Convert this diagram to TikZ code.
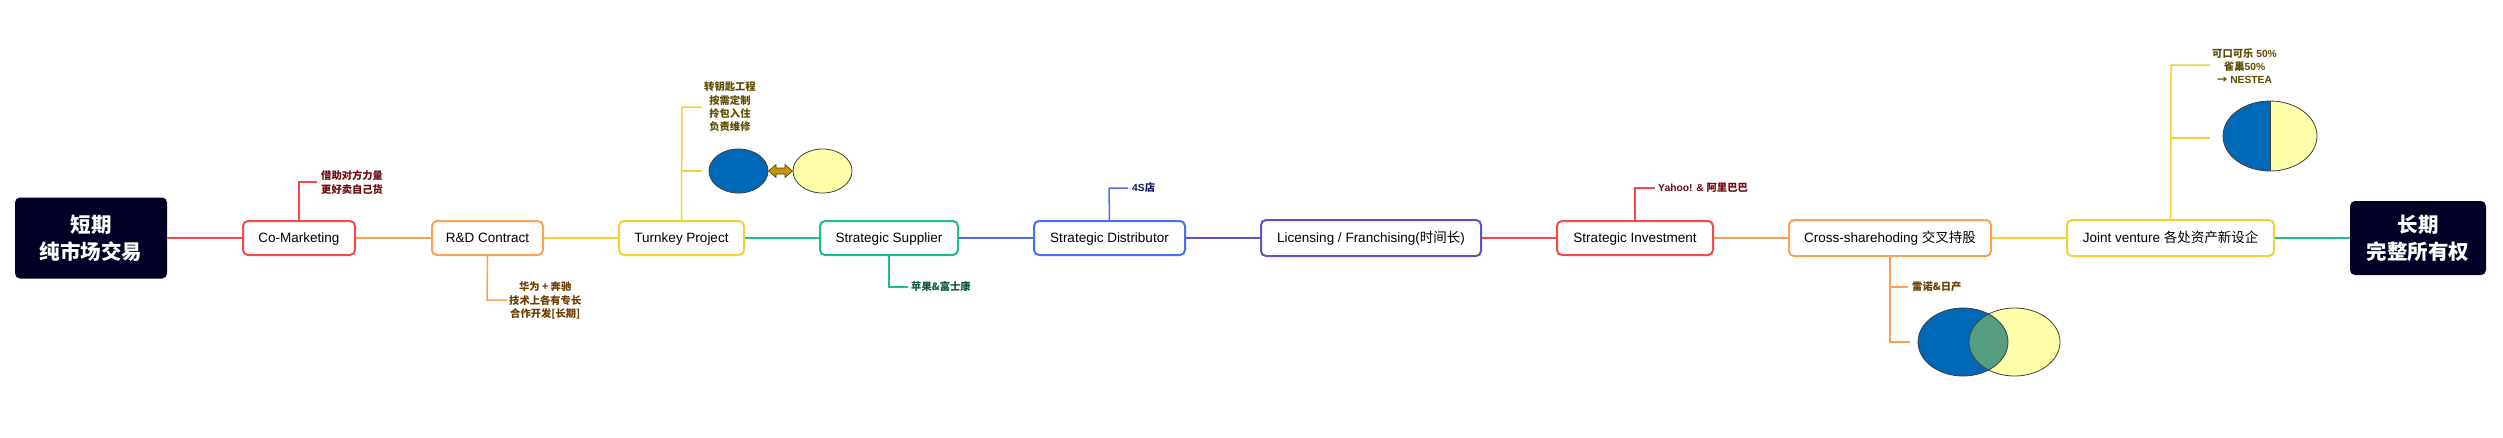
\documentclass[tikz,border=0pt]{standalone}
\usepackage{fontspec}
\setmainfont{Liberation Sans}
\newfontfamily\cjkfont{Noto Sans CJK SC}
\newcommand\zh[1]{{\cjkfont #1}}
\definecolor{cred}{HTML}{F5484A}
\definecolor{corange}{HTML}{F9A254}
\definecolor{cyellow}{HTML}{F4D035}
\definecolor{cgreen}{HTML}{1DBF85}
\definecolor{cblue}{HTML}{4B6EF5}
\definecolor{cindigo}{HTML}{5A54C4}
\definecolor{cnavy}{HTML}{000026}
\definecolor{cblueF}{HTML}{0069B7}
\definecolor{cyelF}{HTML}{FFFFAA}
\definecolor{coverlap}{HTML}{559E80}
\definecolor{carrow}{HTML}{C8960A}
\definecolor{tred}{HTML}{6E0B0B}
\definecolor{tbrown}{HTML}{6B3D00}
\definecolor{tolive}{HTML}{5E4B00}
\definecolor{tgreen}{HTML}{0B5C3C}
\definecolor{tblue}{HTML}{0D1A6E}
\tikzset{
  topic/.style={draw=#1, line width=2pt, rounded corners=5pt, fill=white,
    minimum height=34pt, inner sep=0pt, text=black,
    text height=9.6pt, text depth=0pt,
    font=\fontsize{13.5}{15}\selectfont},
  root/.style={fill=cnavy, rounded corners=5pt, text=white, align=center,
    inner sep=0pt, font=\cjkfont\bfseries\fontsize{20.5}{27}\selectfont},
  link/.style={draw=#1, line width=2pt},
  leg/.style={draw=#1, line width=1.5pt},
  note/.style={text=#1, font=\fontsize{10.3}{13.3}\selectfont\bfseries,
    align=center, anchor=west, inner sep=1pt},
  shapeline/.style={draw=black!75, line width=0.8pt}
}
\begin{document}
\begin{tikzpicture}[x=1pt,y=-1pt]
\useasboundingbox (0,0) rectangle (2503,437);
% main nodes
\node[root, minimum width=152pt, minimum height=81pt] (L) at (91,238) {短期\\纯市场交易};
\node[topic=cred, minimum width=112pt] (cm) at (299,238) {Co-Marketing};
\node[topic=corange, minimum width=111pt] (rd) at (487.5,238) {R\&D Contract};
\node[topic=cyellow, minimum width=125pt] (tk) at (681.5,238) {Turnkey Project};
\node[topic=cgreen, minimum width=138pt] (ss) at (889,238) {Strategic Supplier};
\node[topic=cblue, minimum width=151pt] (sd) at (1109.5,238) {Strategic Distributor};
\node[topic=cindigo, minimum width=220pt, minimum height=36pt] (lf) at (1371,238) {Licensing / Franchising(\zh{时间长})};
\node[topic=cred, minimum width=156pt] (si) at (1635,238) {Strategic Investment};
\node[topic=corange, minimum width=202pt, minimum height=36pt] (cs) at (1890,238) {Cross-sharehoding \zh{交叉持股}};
\node[topic=cyellow, minimum width=207pt, minimum height=36pt] (jv) at (2170.5,238) {Joint venture \zh{各处资产新设企}};
\node[root, minimum width=136pt, minimum height=74pt] (R) at (2418,238) {长期\\完整所有权};
% main connectors
\draw[link=cred] (L.east) -- (cm.west);
\draw[link=corange] (cm.east) -- (rd.west);
\draw[link=cyellow] (rd.east) -- (tk.west);
\draw[link=cgreen] (tk.east) -- (ss.west);
\draw[link=cblue] (ss.east) -- (sd.west);
\draw[link=cindigo] (sd.east) -- (lf.west);
\draw[link=cred] (lf.east) -- (si.west);
\draw[link=corange] (si.east) -- (cs.west);
\draw[link=cyellow] (cs.east) -- (jv.west);
\draw[link=cgreen] (jv.east) -- (R.west);
% Co-Marketing note
\coordinate (cmA) at (299,182);
\coordinate (cmB) at (317,182);
\draw[leg=cred] (cm.north) -- (cmA) -- (cmB);
\node[note=tred, align=left] (cmN) at (320,182.5) {\zh{借助对方力量}\\\zh{更好卖自己货}};
% R&D note
\coordinate (rdA) at (487,300);
\coordinate (rdB) at (507,300);
\draw[leg=corange] (rd.south) -- (rdA) -- (rdB);
\node[note=tbrown] (rdN) at (508,300.5) {\zh{华为 + 奔驰}\\\zh{技术上各有专长}\\\zh{合作开发[长期]}};
% Turnkey notes
\coordinate (tkA) at (682,107);
\coordinate (tkB) at (702,107);
\coordinate (tkC) at (682,171);
\coordinate (tkD) at (702,171);
\draw[leg=cyellow] (tk.north) -- (tkA) -- (tkB);
\draw[leg=cyellow] (tkC) -- (tkD);
\node[note=tolive] (tkN) at (703,107) {\zh{转钥匙工程}\\\zh{按需定制}\\\zh{拎包入住}\\\zh{负责维修}};
\draw[shapeline, fill=cblueF] (738.5,171) ellipse [x radius=29.5, y radius=22];
\draw[shapeline, fill=cyelF] (822.5,171) ellipse [x radius=29.5, y radius=22];
\draw[draw=black!60!carrow, line width=0.6pt, fill=carrow, line join=miter]
  (768.5,171) -- (776,164.5) -- (776,168) -- (785,168) -- (785,164.5) -- (792.5,171)
  -- (785,177.5) -- (785,174) -- (776,174) -- (776,177.5) -- cycle;
% Supplier note
\coordinate (ssA) at (889,287);
\coordinate (ssB) at (908,287);
\draw[leg=cgreen] (ss.south) -- (ssA) -- (ssB);
\node[note=tgreen] (ssN) at (910,287) {\zh{苹果\&富士康}};
% Distributor note
\coordinate (sdA) at (1109,188);
\coordinate (sdB) at (1128,188);
\draw[leg=cblue] (sd.north) -- (sdA) -- (sdB);
\node[note=tblue] (sdN) at (1131,188) {4S\zh{店}};
% Investment note
\coordinate (siA) at (1635,188);
\coordinate (siB) at (1655,188);
\draw[leg=cred] (si.north) -- (siA) -- (siB);
\node[note=tred] (siN) at (1657,188) {Yahoo! \& \zh{阿里巴巴}};
% Cross-shareholding notes
\coordinate (csA) at (1890,287);
\coordinate (csB) at (1908,287);
\coordinate (csC) at (1890,342);
\coordinate (csD) at (1910,342);
\draw[leg=corange] (cs.south) -- (csC) -- (csD);
\draw[leg=corange] (csA) -- (csB);
\node[note=tbrown] (csN) at (1911,287) {\zh{雷诺\&日产}};
\fill[cblueF] (1963,342) ellipse [x radius=45, y radius=34];
\fill[cyelF] (2014.5,342) ellipse [x radius=45.5, y radius=34];
\begin{scope}
  \clip (1963,342) ellipse [x radius=45, y radius=34];
  \fill[coverlap] (2014.5,342) ellipse [x radius=45.5, y radius=34];
\end{scope}
\draw[shapeline] (1963,342) ellipse [x radius=45, y radius=34];
\draw[shapeline] (2014.5,342) ellipse [x radius=45.5, y radius=34];
% Joint venture notes
\coordinate (jvA) at (2171,65);
\coordinate (jvB) at (2210,65);
\coordinate (jvC) at (2171,138);
\coordinate (jvD) at (2210,138);
\draw[leg=cyellow] (jv.north) -- (jvA) -- (jvB);
\draw[leg=cyellow] (jvC) -- (jvD);
\node[note=tolive] (jvN) at (2211,66) {\zh{可口可乐} 50\%\\\zh{雀巢}50\%\\\zh{→} NESTEA};
\begin{scope}
  \clip (2270,136) ellipse [x radius=47, y radius=35];
  \fill[cblueF] (2220,98) rectangle (2270,174);
  \fill[cyelF] (2270,98) rectangle (2320,174);
\end{scope}
\draw[shapeline] (2270,136) ellipse [x radius=47, y radius=35];
\draw[shapeline] (2270,101) -- (2270,171);
\end{tikzpicture}
\end{document}
